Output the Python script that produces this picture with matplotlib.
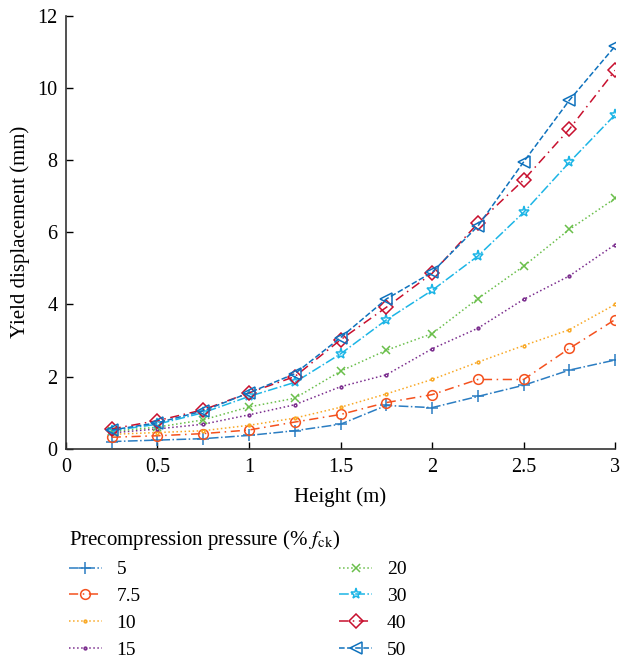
import numpy as np
import matplotlib.pyplot as plt

# Data
height = [0.25, 0.5, 0.75, 1.0, 1.25, 1.5, 1.75, 2.0, 2.25, 2.5, 2.75, 3.0]
labels = ['5', '7.5', '10', '15', '20', '30', '40', '50']
disp_5 = [0.20, 0.24, 0.28, 0.37, 0.50, 0.68, 1.20, 1.14, 1.45, 1.76, 2.18, 2.46]
disp_7_5 = [0.32, 0.36, 0.42, 0.52, 0.74, 0.95, 1.28, 1.50, 1.92, 1.92, 2.78, 3.58]
disp_10 = [0.40, 0.45, 0.50, 0.65, 0.85, 1.15, 1.52, 1.92, 2.40, 2.86, 3.30, 4.00]
disp_15 = [0.44, 0.55, 0.68, 0.94, 1.22, 1.72, 2.05, 2.77, 3.34, 4.14, 4.79, 5.66]
disp_20 = [0.48, 0.60, 0.80, 1.16, 1.40, 2.15, 2.73, 3.19, 4.16, 5.06, 6.08, 6.94]
disp_30 = [0.50, 0.68, 1.00, 1.45, 1.84, 2.63, 3.57, 4.39, 5.34, 6.55, 7.94, 9.26]
disp_40 = [0.55, 0.78, 1.08, 1.55, 2.00, 3.02, 3.92, 4.86, 6.25, 7.45, 8.86, 10.49]
disp_50 = [0.52, 0.72, 1.05, 1.55, 2.08, 3.08, 4.15, 4.89, 6.17, 7.95, 9.66, 11.16]
series = [disp_5, disp_7_5, disp_10, disp_15, disp_20, disp_30, disp_40, disp_50]

colors = ['#2B7DC2', '#F4511E', '#F9A825', '#7B2D8E', '#6ABF4B', '#1CB5E6', '#C8102E', '#0F72BD']
markers = ['+', 'o', '.', '.', 'x', '*', 'D', '<']
msizes = [9, 7, 4, 4, 6, 8, 7, 9]
styles = ['-.', (0, (6, 3, 1, 3)), ':', ':', ':', '-.', (0, (6, 3, 1, 3)), '--']

plt.rcParams['font.family'] = ['Liberation Serif', 'DejaVu Serif']
plt.rcParams['mathtext.fontset'] = 'stix'

fig = plt.figure(figsize=(6.22, 6.58), dpi=100)
ax = fig.add_axes([0.106, 0.318, 0.883, 0.658])

for y, lab, c, m, ms, ls in zip(series, labels, colors, markers, msizes, styles):
    ax.plot(height, y, linestyle=ls, color=c, marker=m, markersize=ms,
            markerfacecolor='none', markeredgewidth=1.1, linewidth=1.1, label=lab)

ax.set_xlim(0, 3)
ax.set_ylim(0, 12)
ax.set_xticks([0, 0.5, 1, 1.5, 2, 2.5, 3])
ax.set_xticklabels(['0', '0.5', '1', '1.5', '2', '2.5', '3'])
ax.set_yticks(range(0, 13, 2))
ax.tick_params(direction='in', labelsize=14.5, length=5, width=1, pad=6)
ax.tick_params(axis='x', pad=7)
for s in ['top', 'right']:
    ax.spines[s].set_visible(False)
for s in ['left', 'bottom']:
    ax.spines[s].set_linewidth(1.2)
    ax.spines[s].set_color('#333333')
ax.set_xlabel('Height (m)', fontsize=15, labelpad=7)
ax.set_ylabel('Yield displacement (mm)', fontsize=15, labelpad=5)

leg = ax.legend(title='Precompression pressure (% $f_{\\mathrm{ck}}$)', ncol=2,
                loc='upper left', bbox_to_anchor=(-0.027, -0.142), frameon=False,
                fontsize=14, title_fontsize=15, handlelength=1.7, columnspacing=10.2,
                labelspacing=0.47, handletextpad=0.77)
leg._legend_box.align = 'left'

fig.savefig('out.png', dpi=100)
